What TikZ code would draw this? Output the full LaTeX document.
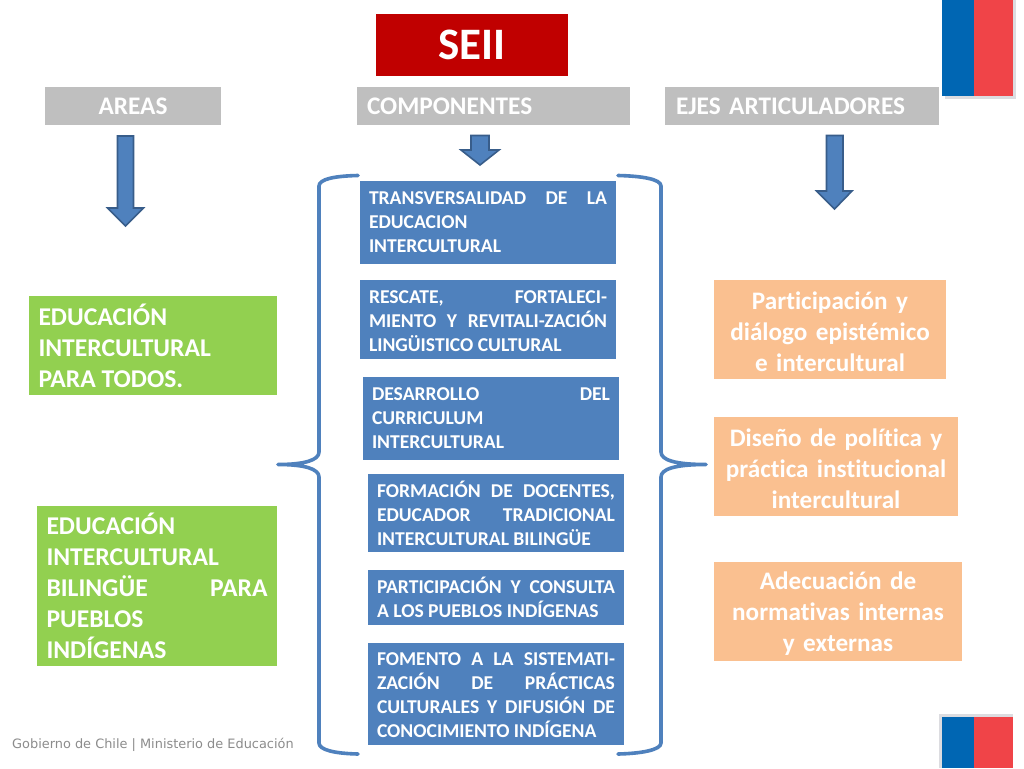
\documentclass[tikz,border=0pt]{standalone}
\usepackage{fontspec}
\setmainfont[Ligatures=NoCommon]{Carlito}
\newfontfamily\footfont{DejaVu Sans}
\definecolor{seired}{HTML}{C00000}
\definecolor{hdrgray}{HTML}{BFBFBF}
\definecolor{boxblue}{HTML}{4F81BD}
\definecolor{arrowedge}{HTML}{385D8A}
\definecolor{boxgreen}{HTML}{92D050}
\definecolor{boxorange}{HTML}{FAC090}
\definecolor{flagblue}{HTML}{0066B3}
\definecolor{flagred}{HTML}{F04448}
\definecolor{flagshadow}{HTML}{DCDCE0}
\definecolor{foottext}{HTML}{8C8C8C}
\tikzset{
  x=1pt,y=-1pt,
  boxbase/.style={anchor=north west,inner xsep=0pt,inner ysep=0pt,outer sep=0pt,text=white},
  titlebox/.style={boxbase,fill=seired,minimum width=192pt,minimum height=62pt,font=\fontsize{45}{49}\selectfont\bfseries},
  hdrbox/.style={boxbase,fill=hdrgray,minimum height=38pt,font=\fontsize{25.3}{29}\selectfont\bfseries},
  compbox/.style={boxbase,fill=boxblue,text width=238pt,align=justify,inner xsep=9pt,font=\fontsize{19.6}{24}\selectfont\bfseries},
  firstline/.style={execute at begin node={\rule{0pt}{#1}}},
  greenbox/.style={boxbase,fill=boxgreen,align=justify,inner xsep=9.5pt,font=\fontsize{25.6}{31}\selectfont\bfseries},
  ejebox/.style={boxbase,fill=boxorange,align=center,font=\fontsize{25.2}{31}\selectfont\bfseries,firstline=22pt},
  blockarrow/.style={fill=boxblue,draw=arrowedge,line width=1.6pt,line join=miter},
  bracket/.style={draw=boxblue,line width=3.6pt,line cap=round,line join=round},
}
\begin{document}
\begin{tikzpicture}
\useasboundingbox (0,0) rectangle (1024,768);
\fill[white] (0,0) rectangle (1024,768);

% flags
\fill[flagshadow] (945,0) rectangle (1016,99);
\fill[flagblue] (942,0) rectangle (974,96);
\fill[flagred] (974,0) rectangle (1013,96);
\fill[flagshadow] (939,714) rectangle (1013,768);
\fill[flagblue] (942,717) rectangle (974,768);
\fill[flagred] (974,717) rectangle (1013,768);

% title and headers
\node[titlebox] (seii) at (376,14) {\raisebox{-1pt}{SEII}};
\node[hdrbox,minimum width=176pt] (areas) at (45,87) {AREAS};
\node[hdrbox,text width=273pt,align=left] (comp) at (357,87) {\hspace*{10pt}COMPONENTES};
\node[hdrbox,text width=274pt,align=left] (ejes) at (665,87) {\hspace*{11pt}EJES ARTICULADORES};

% block arrows
\draw[blockarrow] (117.5,136) -- (133.5,136) -- (133.5,208) -- (143.5,208) -- (125.5,226) -- (107.5,208) -- (117.5,208) -- cycle;
\draw[blockarrow] (471,135.5) -- (489,135.5) -- (489,150) -- (499,150) -- (480,165) -- (461,150) -- (471,150) -- cycle;
\draw[blockarrow] (826.5,135.5) -- (843,135.5) -- (843,191) -- (852,191) -- (834.5,209) -- (816.5,191) -- (826.5,191) -- cycle;

% brackets
\draw[bracket] (358,175.5) .. controls (335,176) and (319,179) .. (319,186) -- (319,452)
  .. controls (319,460) and (305,464.5) .. (278,464.5)
  .. controls (305,464.5) and (319,469) .. (319,477) -- (319,743)
  .. controls (319,750) and (335,753.5) .. (358,754);
\draw[bracket] (618,175.5) .. controls (641,176) and (661,179) .. (661,186) -- (661,452)
  .. controls (661,460) and (675,464.5) .. (706,464.5)
  .. controls (675,464.5) and (661,469) .. (661,477) -- (661,743)
  .. controls (661,750) and (641,753.5) .. (618,754);

% component boxes
\node[compbox,minimum height=83pt] (c1) at (360,181) {TRANSVERSALIDAD DE LA\linebreak EDUCACION\newline INTERCULTURAL};
\node[compbox,minimum height=79pt,firstline=15.5pt] (c2) at (360,280) {RESCATE, FORTALECI-\linebreak MIENTO Y REVITALI-ZACIÓN\linebreak LINGÜISTICO CULTURAL};
\node[compbox,minimum height=83pt] (c3) at (363,377) {DESARROLLO DEL\linebreak CURRICULUM\newline INTERCULTURAL};
\node[compbox,minimum height=78pt] (c4) at (368,474) {FORMACIÓN DE DOCENTES,\linebreak EDUCADOR TRADICIONAL\linebreak INTERCULTURAL BILINGÜE};
\node[compbox,minimum height=55pt] (c5) at (368,570) {PARTICIPACIÓN Y CONSULTA\linebreak A LOS PUEBLOS INDÍGENAS};
\node[compbox,minimum height=102pt,firstline=15.5pt] (c6) at (368,643) {FOMENTO A LA SISTEMATI-\linebreak ZACIÓN DE PRÁCTICAS\linebreak CULTURALES Y DIFUSIÓN DE\linebreak CONOCIMIENTO INDÍGENA};

% green boxes
\node[greenbox,text width=229pt,minimum height=99pt] (g1) at (29,296) {EDUCACIÓN\newline INTERCULTURAL\newline PARA TODOS.};
\node[greenbox,text width=221pt,minimum height=160pt] (g2) at (37,506) {EDUCACIÓN\newline INTERCULTURAL\newline BILINGÜE PARA\linebreak PUEBLOS\newline INDÍGENAS};

% orange boxes
\node[ejebox,text width=232pt,minimum height=99pt] (e1) at (714,280) {Participación y\\diálogo epistémico\\e intercultural};
\node[ejebox,text width=244pt,minimum height=99pt] (e2) at (714,417) {Diseño de política y\\práctica institucional\\intercultural};
\node[ejebox,text width=248pt,minimum height=99pt] (e3) at (714,562) {Adecuación de\\normativas internas\\y externas};

% footer
\node[anchor=west,inner sep=0pt,text=foottext,font=\footfont\fontsize{12.9}{15}\selectfont] (foot) at (12,745) {Gobierno de Chile | Ministerio de Educación};
\end{tikzpicture}
\end{document}
